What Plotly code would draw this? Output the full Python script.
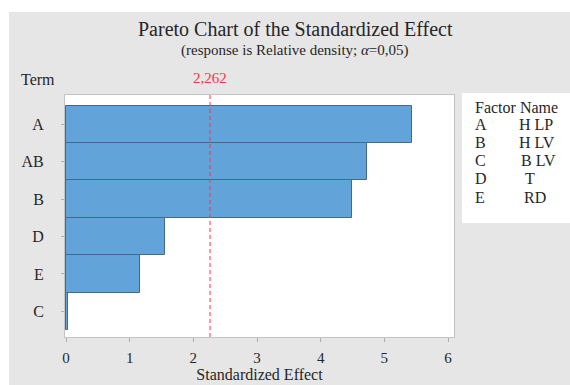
import plotly.graph_objects as go

# ---- data ----
terms = ["A", "AB", "B", "D", "E", "C"]
effects = [5.43, 4.72, 4.49, 1.555, 1.16, 0.025]
ref_value = 2.262
ref_label = "2,262"
x_ticks = [0, 1, 2, 3, 4, 5, 6]
factor_letters = ["A", "B", "C", "D", "E"]
factor_names = ["H LP", "H LV", "B LV", "T", "RD"]

W, H = 570, 385
L, R, T, B = 65, 454, 95, 337
FONT = "Liberation Serif"
TXT = "#262626"


def px2x(px):
    return (px - L) / (R - L)


def py2y(py):
    return 1 - (py - T) / (B - T)


fig = go.Figure()
fig.add_trace(go.Bar(
    x=effects, y=terms, orientation="h",
    marker=dict(color="#62A4DA", line=dict(color="#45698c", width=1)),
    hoverinfo="x+y",
))

shapes = [
    # white strips around the gray panel
    dict(type="rect", xref="paper", yref="paper", x0=px2x(-5), x1=px2x(580),
         y0=py2y(12), y1=py2y(-5), fillcolor="white", line=dict(width=0), layer="below"),
    dict(type="rect", xref="paper", yref="paper", x0=px2x(-5), x1=px2x(9),
         y0=py2y(395), y1=py2y(-5), fillcolor="white", line=dict(width=0), layer="below"),
    # factor table box
    dict(type="rect", xref="paper", yref="paper", x0=px2x(462), x1=px2x(580),
         y0=py2y(223), y1=py2y(93), fillcolor="white", line=dict(width=0), layer="below"),
    # reference line
    dict(type="line", xref="x", yref="paper", x0=ref_value, x1=ref_value,
         y0=0, y1=1, line=dict(color="#ff3344", width=1, dash="4px,3px")),
]

ann = [
    dict(text="Pareto Chart of the Standardized Effect", x=px2x(295), y=py2y(29),
         font=dict(size=20, color=TXT)),
    dict(text="(response is Relative density; <i>α</i>=0,05)", x=px2x(295), y=py2y(51),
         font=dict(size=15, color=TXT)),
    dict(text="Term", x=px2x(38), y=py2y(79), font=dict(size=16, color=TXT)),
    dict(text=ref_label, x=ref_value, xref="x", y=py2y(78),
         font=dict(size=15, color="#ff3344")),
    dict(text="Factor Name", x=px2x(473), y=py2y(107), xanchor="left",
         font=dict(size=16, color=TXT)),
]
row_y = [124, 142, 160, 178, 197]
name_x = [517, 517, 519, 523, 522]
for i, (lt, nm) in enumerate(zip(factor_letters, factor_names)):
    ann.append(dict(text=lt, x=px2x(473), y=py2y(row_y[i]), xanchor="left",
                    font=dict(size=16, color=TXT)))
    ann.append(dict(text=nm, x=px2x(name_x[i]), y=py2y(row_y[i]), xanchor="left",
                    font=dict(size=16, color=TXT)))
for a in ann:
    a.setdefault("xref", "paper")
    a["yref"] = "paper"
    a["showarrow"] = False
    a.setdefault("xanchor", "center")
    a["yanchor"] = "middle"

fig.update_layout(
    width=W, height=H,
    margin=dict(l=L, r=W - R, t=T, b=H - B, autoexpand=False),
    paper_bgcolor="#e6e6e6", plot_bgcolor="white",
    font=dict(family=FONT, size=16, color=TXT),
    showlegend=False, bargap=0,
    shapes=shapes, annotations=ann,
    xaxis=dict(range=[-0.016, 6.094], tickvals=x_ticks, ticks="outside", ticklen=7,
               tickcolor="rgba(0,0,0,0)", automargin=False,
               minor=dict(tickvals=x_ticks, ticks="outside", ticklen=4,
                          tickcolor="#b0b0b0", showgrid=False),
               showgrid=False, zeroline=False,
               showline=True, linecolor="#c4c4c4", mirror=True,
               tickfont=dict(size=15), title=dict(text="Standardized Effect",
                                                   font=dict(size=16), standoff=2)),
    yaxis=dict(type="category", categoryorder="array", categoryarray=terms,
               range=[5.687, -0.786], ticks="outside", ticklen=3, tickcolor="#b0b0b0",
               automargin=False,
               showgrid=False, zeroline=False, showline=True, linecolor="#c4c4c4",
               mirror=True, tickfont=dict(size=16), ticklabelstandoff=14),
)

fig.write_html("out.html", config={"displayModeBar": False},
               post_script="document.body.style.margin='0';document.body.style.overflow='hidden';")
